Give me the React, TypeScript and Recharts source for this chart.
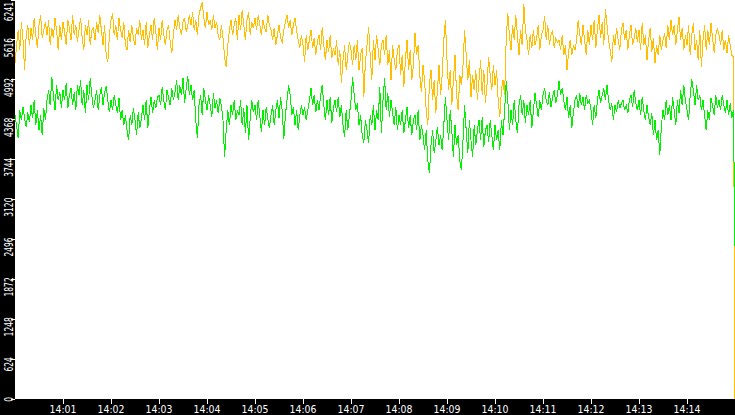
import { LineChart, Line, XAxis, YAxis, CartesianGrid } from "recharts";

// one sample every 2 seconds, starting 14:00:00
const SAMPLE_STEP = 2;

const yellowSeries = [
  5253, 5535, 5771, 5457, 5896, 5614, 5143, 5692, 5849, 5535,
  5802, 5614, 5959, 5692, 5488, 5849, 6006, 5645, 5771, 5896,
  5692, 5927, 5535, 5802, 5645, 5959, 5771, 5457, 5849, 5614,
  5896, 5739, 5535, 5927, 5802, 5614, 6006, 5692, 5849, 5582,
  5771, 5959, 5645, 5457, 5849, 5692, 5927, 5535, 5771, 5802,
  5614, 5896, 5724, 6006, 5771, 5535, 5849, 5379, 5269, 5692,
  5927, 6037, 5692, 5849, 5614, 5959, 5771, 5645, 5896, 5535,
  5457, 5771, 5582, 5849, 5645, 5535, 5802, 5692, 5927, 5614,
  5771, 5535, 5896, 5488, 5692, 5849, 5614, 5959, 5739, 5457,
  5802, 5614, 5927, 5692, 5535, 5771, 5849, 5582, 5410, 5692,
  5927, 5771, 6006, 5802, 5692, 5896, 5959, 5739, 5849, 6006,
  5849, 6053, 5771, 5927, 5692, 6006, 6116, 6210, 5959, 5802,
  6053, 5849, 5927, 5771, 6006, 5802, 5896, 5692, 5614, 5849,
  5645, 5347, 5190, 5535, 5771, 5927, 5692, 5849, 5959, 5614,
  6006, 5771, 6084, 5849, 5614, 5927, 6053, 5692, 5896, 5802,
  5959, 5771, 6006, 5849, 5692, 5927, 5802, 5739, 6006, 5849,
  5771, 5614, 5802, 5535, 5692, 5849, 5645, 5582, 5771, 5896,
  6006, 5802, 5927, 5692, 5849, 5959, 5771, 5614, 5488, 5692,
  5535, 5269, 5692, 5457, 5614, 5771, 5488, 5645, 5379, 5582,
  5692, 5457, 5818, 5535, 5300, 5614, 5426, 5692, 5332, 5488,
  5379, 5614, 5222, 5457, 4940, 5300, 5535, 5143, 5379, 5582,
  5457, 5222, 5535, 5300, 5614, 5143, 5379, 5488, 4720, 5269,
  5535, 5818, 5379, 4986, 5614, 5300, 5692, 5457, 5222, 5535,
  5614, 5379, 5692, 5222, 5457, 4986, 5535, 5300, 5143, 5457,
  5535, 5065, 5379, 4877, 5300, 5614, 5143, 5457, 4986, 5222,
  5724, 5379, 5535, 5065, 4798, 5222, 4986, 4516, 4281, 4924,
  5143, 4673, 4986, 4469, 4829, 5222, 4751, 5065, 5614, 5927,
  5300, 4829, 5143, 4594, 4986, 5379, 4751, 4516, 5065, 4908,
  5222, 5770, 5379, 4986, 5300, 4720, 5065, 4829, 5143, 4673,
  4986, 5300, 4751, 5143, 4626, 4908, 5347, 5065, 4829, 5222,
  4908, 5143, 4673, 4406, 4829, 4986, 4751, 5614, 6037, 5692,
  5457, 5849, 5614, 6006, 5692, 5379, 5771, 5535, 6178, 5771,
  5614, 5379, 5692, 5488, 5771, 5535, 5645, 5849, 5457, 5692,
  5771, 5990, 5614, 5849, 5535, 5692, 5771, 5488, 5645, 5582,
  5614, 5457, 5692, 5379, 5535, 5143, 5426, 5614, 5379, 5535,
  5457, 5614, 5927, 5692, 5535, 5849, 5614, 5379, 5771, 5535,
  5849, 5614, 5927, 5488, 5771, 6006, 5645, 5896, 5535, 6100,
  5849, 5614, 5457, 5269, 5692, 5535, 5802, 5614, 5457, 5771,
  5880, 5614, 5771, 5457, 5692, 5849, 5535, 5645, 5802, 5582,
  5771, 5457, 5880, 5535, 5692, 5300, 5614, 5802, 5426, 5645,
  5253, 5535, 5379, 5692, 5457, 5614, 5724, 5488, 5849, 5614,
  5927, 5692, 5849, 5535, 5771, 5975, 5614, 5802, 5457, 5692,
  5535, 5849, 5379, 5692, 5880, 5457, 5614, 5300, 5771, 5190,
  5614, 5849, 5457, 5771, 5535, 5880, 5645, 5410, 5692, 5802,
  5692, 5535, 5771, 5457, 5614, 5410, 5692, 5535, 5379, 5347,
  0,
];

const greenSeries = [
  4437, 4281, 4077, 4516, 4359, 4563, 4390, 4249, 4484, 4328,
  4594, 4390, 4673, 4281, 4516, 4202, 4437, 4124, 4547, 4359,
  4673, 4829, 4594, 5034, 4751, 4516, 4908, 4673, 4798, 4547,
  4829, 4673, 4939, 4547, 4751, 4861, 4594, 4798, 4516, 4908,
  4751, 4986, 4594, 4829, 4469, 4908, 4673, 5018, 4751, 4547,
  4673, 4829, 4516, 4751, 4877, 4594, 4798, 4892, 4673, 4484,
  4673, 4516, 4751, 4594, 4469, 4704, 4359, 4516, 4281, 4437,
  4202, 4045, 4437, 4281, 4547, 4359, 4124, 4484, 4234, 4390,
  4594, 4359, 4673, 4234, 4516, 4720, 4469, 4673, 4547, 4720,
  4751, 4594, 4877, 4673, 4516, 4829, 4704, 4594, 4861, 4673,
  4798, 4986, 4673, 4908, 4751, 5018, 4626, 4861, 5049, 4751,
  4908, 4673, 4829, 4359, 4077, 4594, 4751, 4437, 4861, 4673,
  4516, 4751, 4594, 4406, 4783, 4547, 4673, 4469, 4704, 4594,
  4359, 3779, 4202, 4516, 4281, 4594, 4437, 4673, 4359, 4516,
  4437, 4673, 4281, 4547, 4155, 4594, 4045, 4390, 4673, 4484,
  4594, 4359, 4673, 4437, 4171, 4516, 4281, 4563, 4390, 4234,
  4437, 4594, 4281, 4516, 4673, 4390, 4720, 4516, 4061, 4437,
  4673, 4908, 4751, 4437, 4563, 4281, 4516, 4202, 4437, 4594,
  4437, 4563, 4359, 4516, 4673, 4861, 4594, 4751, 4484, 4673,
  4516, 4751, 4908, 4594, 4359, 4673, 4437, 4720, 4312, 4547,
  4673, 4484, 4720, 4406, 4594, 4281, 4092, 4516, 4202, 4437,
  4673, 5034, 4751, 4516, 4626, 4281, 4437, 4124, 3999, 4359,
  4202, 3999, 4437, 4281, 4594, 4202, 4516, 4359, 4877, 4155,
  4673, 5018, 4516, 4783, 4406, 4673, 4484, 4281, 4563, 4202,
  4437, 4281, 4516, 4155, 4359, 4563, 4234, 4437, 4124, 4359,
  4437, 4202, 4516, 4045, 4281, 4124, 3889, 4202, 3732, 3528,
  3967, 4202, 3842, 4045, 4249, 3967, 4124, 3889, 4281, 4720,
  4359, 4045, 4516, 4202, 3779, 4281, 3967, 4124, 3732, 3575,
  4045, 4594, 4202, 3842, 4359, 4045, 3779, 4281, 3967, 4202,
  4359, 4045, 4406, 3936, 4202, 4281, 4014, 4359, 4124, 3889,
  4281, 4045, 4202, 3889, 4359, 4124, 4516, 4970, 4673, 4202,
  4516, 4281, 4673, 4359, 4155, 4594, 4751, 4437, 4673, 4312,
  4594, 4437, 4673, 4234, 4516, 4783, 4594, 4406, 4673, 4516,
  4751, 4861, 4673, 4594, 4798, 4563, 4720, 4829, 4626, 4751,
  4970, 4751, 4861, 4673, 4516, 4720, 4390, 4594, 4234, 4484,
  4673, 4751, 4547, 4783, 4594, 4720, 4516, 4751, 4626, 4673,
  4516, 4281, 4594, 4390, 4673, 4829, 4626, 4751, 4861, 4673,
  4908, 4673, 4516, 4626, 4359, 4594, 4484, 4673, 4547, 4626,
  4673, 4516, 4594, 4469, 4673, 4751, 4563, 4829, 4626, 4516,
  4673, 4437, 4720, 4516, 4359, 4594, 4406, 4281, 4469, 4124,
  4359, 4045, 4202, 3810, 4281, 4516, 4359, 4673, 4437, 4594,
  4359, 4720, 4516, 4281, 4673, 4469, 4829, 4594, 4908, 4673,
  4516, 4359, 4751, 5002, 4829, 4594, 4908, 4673, 4751, 4516,
  4673, 4437, 4202, 4516, 4359, 4704, 4594, 4437, 4751, 4547,
  4673, 4516, 4751, 4594, 4469, 4673, 4437, 4626, 4390, 4516,
  2400,
];

const yTicks = [0, 624, 1248, 1872, 2496, 3120, 3744, 4368, 4992, 5616, 6241];
const xTickMinutes = [1, 2, 3, 4, 5, 6, 7, 8, 9, 10, 11, 12, 13, 14];

const data = yellowSeries.map((v, i) => ({
  t: i * SAMPLE_STEP,
  yellow: v,
  green: greenSeries[i],
}));

const YTick = (props: any) => {
  const { y, payload } = props;
  const label = String(payload.value);
  const ay = Math.max(y - 2, 2);
  return (
    <text
      transform={`translate(12.5,${ay}) rotate(-90)`}
      textAnchor="end"
      fill="#fff"
      fontSize={13}
      fontFamily="DejaVu Sans"
      textLength={label.length * 4.8}
      lengthAdjust="spacingAndGlyphs"
    >
      {label}
    </text>
  );
};

const XTick = (props: any) => {
  const { x, payload } = props;
  const m = Math.round(payload.value / 60);
  const label = `14:${String(m).padStart(2, "0")}`;
  return (
    <text
      x={x}
      y={413}
      textAnchor="middle"
      fill="#fff"
      fontSize={11}
      fontFamily="DejaVu Sans"
      textLength={27}
      lengthAdjust="spacingAndGlyphs"
    >
      {label}
    </text>
  );
};

export default function App() {
  return (
    <div
      style={{
        position: "absolute",
        left: 0,
        top: 0,
        width: 735,
        height: 415,
        background: "#000",
        shapeRendering: "crispEdges",
      }}
    >
      <LineChart width={735} height={415} data={data} margin={{ top: 0, right: 0, bottom: 0, left: 0 }}>
        <CartesianGrid horizontal={false} vertical={false} fill="#fff" fillOpacity={1} />
        <XAxis
          dataKey="t"
          type="number"
          domain={[0, 900]}
          ticks={xTickMinutes.map((m) => m * 60)}
          interval={0}
          height={16}
          axisLine={false}
          tickLine={{ stroke: "#fff" }}
          tickSize={5}
          tick={<XTick />}
        />
        <YAxis
          type="number"
          domain={[0, 6241]}
          ticks={yTicks}
          interval={0}
          width={15}
          axisLine={false}
          tickLine={{ stroke: "#fff" }}
          tickSize={4}
          tick={<YTick />}
        />
        <Line
          type="linear"
          dataKey="yellow"
          stroke="#ffbf00"
          strokeWidth={1}
          dot={false}
          activeDot={false}
          isAnimationActive={false}
        />
        <Line
          type="linear"
          dataKey="green"
          stroke="#00f000"
          strokeWidth={1}
          dot={false}
          activeDot={false}
          isAnimationActive={false}
        />
      </LineChart>
    </div>
  );
}
